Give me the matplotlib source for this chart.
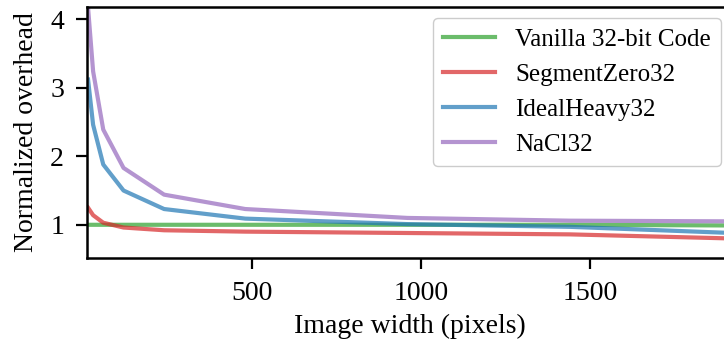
import matplotlib
matplotlib.use("Agg")
import matplotlib.pyplot as plt

plt.rcParams["font.family"] = ["Liberation Serif", "DejaVu Serif"]
plt.rcParams["font.size"] = 20

widths = [15, 30, 60, 120, 240, 480, 960, 1440, 1920]
vanilla = [1.0, 1.0, 1.0, 1.0, 1.0, 1.0, 1.0, 1.0, 0.99]
segment_zero = [1.25, 1.14, 1.03, 0.96, 0.92, 0.90, 0.88, 0.86, 0.80]
ideal_heavy = [3.12, 2.46, 1.88, 1.50, 1.23, 1.09, 1.01, 0.97, 0.88]
nacl = [4.17, 3.24, 2.39, 1.83, 1.44, 1.23, 1.10, 1.06, 1.05]

series = [
    ("Vanilla 32-bit Code", vanilla, "tab:green"),
    ("SegmentZero32", segment_zero, "tab:red"),
    ("IdealHeavy32", ideal_heavy, "tab:blue"),
    ("NaCl32", nacl, "tab:purple"),
]

fig = plt.figure(figsize=(7.24, 3.48), dpi=100)
ax = fig.add_axes([0.1202, 0.2586, 0.891, 0.7214])

for label, vals, color in series:
    ax.plot(widths, vals, color=color, alpha=0.7, lw=3, label=label)

ax.set_xlim(12, 1920)
ax.set_ylim(0.515, 4.18)
ax.set_xticks([500, 1000, 1500])
ax.set_yticks([1, 2, 3, 4])
ax.set_xlabel("Image width (pixels)", labelpad=6)
ax.set_ylabel("Normalized overhead", labelpad=8)

for side in ("left", "bottom", "top", "right"):
    ax.spines[side].set_linewidth(1.8)
ax.tick_params(direction="out", length=8, width=1.6, pad=8.5)

ax.legend(loc="upper right", frameon=True, fancybox=True, fontsize=18,
          edgecolor="#cccccc", framealpha=1.0, handlelength=2.1,
          borderaxespad=0.45)

fig.savefig("out.png", dpi=100)
